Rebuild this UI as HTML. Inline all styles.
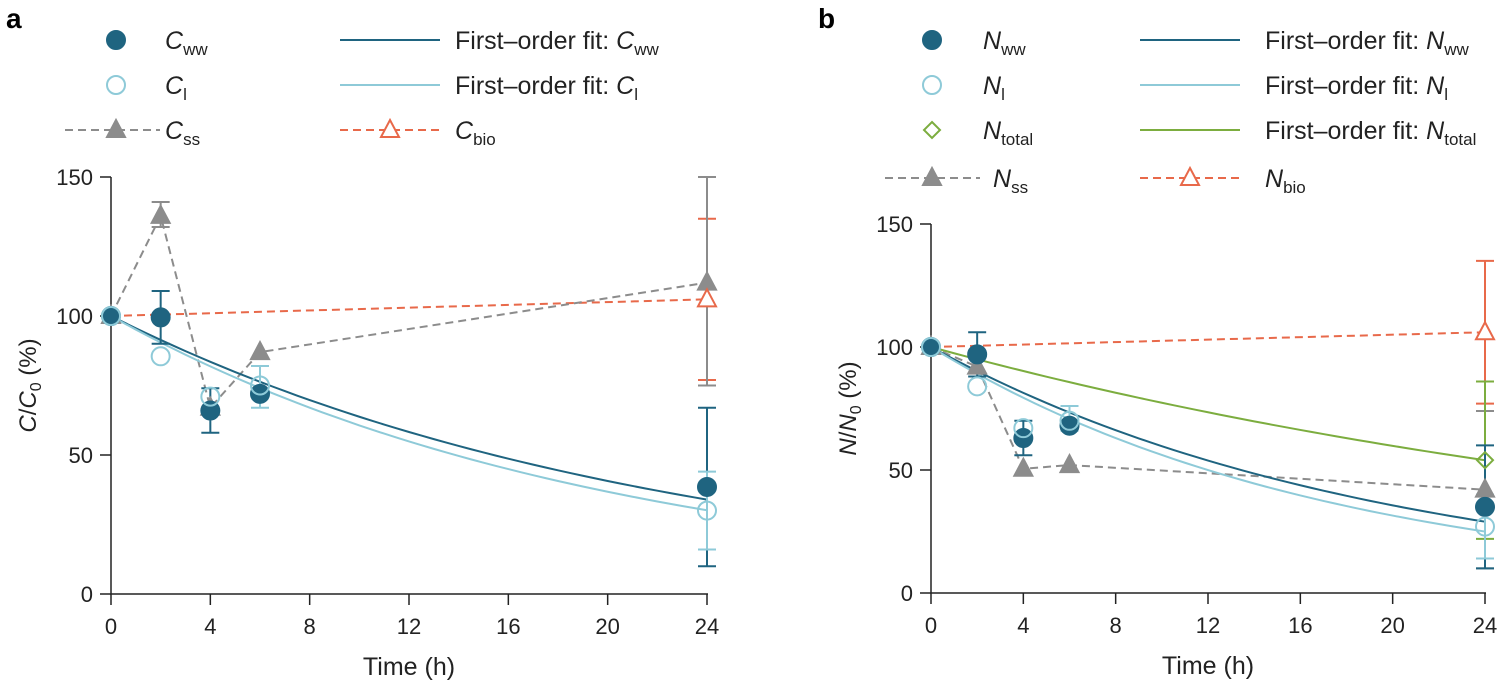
<!DOCTYPE html>
<html><head><meta charset="utf-8"><style>
body{margin:0;background:#fff}
svg{font-family:"Liberation Sans",sans-serif}
</style></head><body>
<svg id="s" width="1510" height="683" xmlns="http://www.w3.org/2000/svg"></svg>
<script>
const s=document.getElementById('s');let h='';
const DK='#1f6480',LT='#8ecad8',GR='#8c8c8c',RD='#e8694a',GN='#7cad3f';
function P(cfg){
 const {x0,x24,y0,y150}=cfg;
 const X=t=>x0+(x24-x0)*t/24, Y=v=>y0+(y150-y0)*v/150;
 h+=`<g stroke="#222" stroke-width="1.5" fill="none"><path d="M${x0} ${y150}V${y0}H${x24+1}"/>`;
 for(let v=0;v<=150;v+=50)h+=`<path d="M${x0-11} ${Y(v)}H${x0}"/>`;
 for(let t=0;t<=24;t+=4)h+=`<path d="M${X(t)} ${y0}v11"/>`;
 h+='</g>';
 for(let v=0;v<=150;v+=50)h+=`<text x="${x0-18}" y="${Y(v)+8}" font-size="22" text-anchor="end" fill="#222">${v}</text>`;
 for(let t=0;t<=24;t+=4)h+=`<text x="${X(t)}" y="${y0+40}" font-size="22" text-anchor="middle" fill="#222">${t}</text>`;
 h+=`<text x="${(x0+x24)/2}" y="${y0+81}" font-size="25" text-anchor="middle" fill="#222">Time (h)</text>`;
 h+=`<text transform="translate(${x0-75},${(y0+y150)/2}) rotate(-90)" font-size="24" text-anchor="middle" fill="#222">${cfg.ylab}</text>`;
 const line=(pts,c,dash)=>{h+=`<polyline points="${pts.map(p=>X(p[0])+','+Y(p[1])).join(' ')}" fill="none" stroke="${c}" stroke-width="2" ${dash?'stroke-dasharray="8,5"':''}/>`};
 const fit=(k,c)=>{let p=[];for(let t=0;t<=24;t+=0.5)p.push([t,100*Math.exp(-k*t)]);line(p,c)};
 const err=(t,a,b,c)=>{h+=`<path d="M${X(t)} ${Y(a)}V${Y(b)}M${X(t)-9} ${Y(a)}h18M${X(t)-9} ${Y(b)}h18" stroke="${c}" stroke-width="2" fill="none"/>`};
 const tri=(t,v,c,fill)=>{const x=X(t),y=Y(v);h+=`<path d="M${x} ${y-10}L${x+9} ${y+7}H${x-9}Z" fill="${fill?c:'#fff'}" stroke="${c}" stroke-width="2"/>`};
 const cir=(t,v,c,fill)=>{h+=`<circle cx="${X(t)}" cy="${Y(v)}" r="9" fill="${fill?c:'#fff'}" stroke="${c}" stroke-width="2" ${fill?'':'fill-opacity="0"'}/>`};
 const dia=(t,v,c)=>{const x=X(t),y=Y(v);h+=`<path d="M${x} ${y-8}L${x+8} ${y}L${x} ${y+8}L${x-8} ${y}Z" fill="none" stroke="${c}" stroke-width="2"/>`};
 cfg.draw({line,fit,err,tri,cir,dia});
}
P({x0:111,x24:707,y0:594,y150:177,ylab:'<tspan font-style="italic">C</tspan>/<tspan font-style="italic">C</tspan><tspan font-size="16" dy="5">0</tspan><tspan dy="-5"> (%)</tspan>',draw:f=>{
 f.err(24,77,135,RD);f.line([[0,100],[24,106]],RD,1);
 f.err(2,132,141,GR);f.err(24,75,150,GR);
 f.line([[0,100],[2,136],[4,67],[6,87],[24,112]],GR,1);
 f.fit(0.045,DK);f.fit(0.050,LT);
 f.err(2,90,109,DK);f.err(4,58,74,DK);f.err(24,10,67,DK);
 f.err(6,67,82,LT);f.err(24,16,44,LT);
 [[0,100],[2,136],[4,67],[6,87],[24,112]].forEach(p=>f.tri(p[0],p[1],GR,1));
 f.tri(24,106,RD,0);
 [[0,100],[2,99.5],[4,66],[6,72],[24,38.5]].forEach(p=>f.cir(p[0],p[1],DK,1));
 [[0,100],[2,85.5],[4,71],[6,75],[24,30]].forEach(p=>f.cir(p[0],p[1],LT,0));
}});
P({x0:931,x24:1485,y0:593,y150:224,ylab:'<tspan font-style="italic">N</tspan>/<tspan font-style="italic">N</tspan><tspan font-size="16" dy="5">0</tspan><tspan dy="-5"> (%)</tspan>',draw:f=>{
 f.err(24,77,135,RD);f.line([[0,100],[24,106]],RD,1);
 f.err(24,10,74,GR);
 f.line([[0,100],[2,92],[4,50.5],[6,52],[24,42]],GR,1);
 f.fit(0.0257,GN);f.err(24,22,86,GN);
 f.fit(0.0516,DK);f.fit(0.0578,LT);
 f.err(2,88,106,DK);f.err(4,56,70,DK);f.err(24,10,60,DK);
 f.err(6,66,76,LT);f.err(24,14,40,LT);
 [[0,100],[2,92],[4,50.5],[6,52],[24,42]].forEach(p=>f.tri(p[0],p[1],GR,1));
 f.tri(24,106,RD,0);f.dia(24,54,GN);
 [[0,100],[2,97],[4,63],[6,68],[24,35]].forEach(p=>f.cir(p[0],p[1],DK,1));
 [[0,100],[2,84],[4,67],[6,70],[24,27]].forEach(p=>f.cir(p[0],p[1],LT,0));
}});
const sub=(L,s)=>`<tspan font-style="italic">${L}</tspan><tspan font-size="17" dy="6">${s}</tspan>`;
function T(x,y,t){h+=`<text x="${x}" y="${y+9}" font-size="25" fill="#222">${t}</text>`}
function lc(x,y,c,fill){h+=`<circle cx="${x}" cy="${y}" r="9" fill="${fill?c:'none'}" stroke="${c}" stroke-width="2"/>`}
function ll(x1,x2,y,c,dash){h+=`<path d="M${x1} ${y}H${x2}" stroke="${c}" stroke-width="2" ${dash?'stroke-dasharray="8,5"':''}/>`}
function lt(x,y,c,fill){h+=`<path d="M${x} ${y-10}L${x+9} ${y+7}H${x-9}Z" fill="${fill?c:'#fff'}" stroke="${c}" stroke-width="2"/>`}
h+=`<text x="6" y="28" font-size="28" font-weight="bold">a</text><text x="818" y="28" font-size="28" font-weight="bold">b</text>`;
lc(116,40,DK,1);T(165,40,sub('C','ww'));ll(340,440,40,DK);T(455,40,'First–order fit: '+sub('C','ww'));
lc(116,85,LT,0);T(165,85,sub('C','l'));ll(340,440,85,LT);T(455,85,'First–order fit: '+sub('C','l'));
ll(65,160,130,GR,1);lt(116,130,GR,1);T(165,130,sub('C','ss'));ll(340,440,130,RD,1);lt(390,130,RD,0);T(455,130,sub('C','bio'));
lc(932,40,DK,1);T(983,40,sub('N','ww'));ll(1140,1240,40,DK);T(1265,40,'First–order fit: '+sub('N','ww'));
lc(932,85,LT,0);T(983,85,sub('N','l'));ll(1140,1240,85,LT);T(1265,85,'First–order fit: '+sub('N','l'));
h+=`<path d="M932 122L940 130L932 138L924 130Z" fill="none" stroke="${GN}" stroke-width="2"/>`;T(983,130,sub('N','total'));ll(1140,1240,130,GN);T(1265,130,'First–order fit: '+sub('N','total'));
ll(885,980,178,GR,1);lt(932,178,GR,1);T(993,178,sub('N','ss'));ll(1140,1240,178,RD,1);lt(1190,178,RD,0);T(1265,178,sub('N','bio'));
s.innerHTML=h;
</script>
</body></html>
